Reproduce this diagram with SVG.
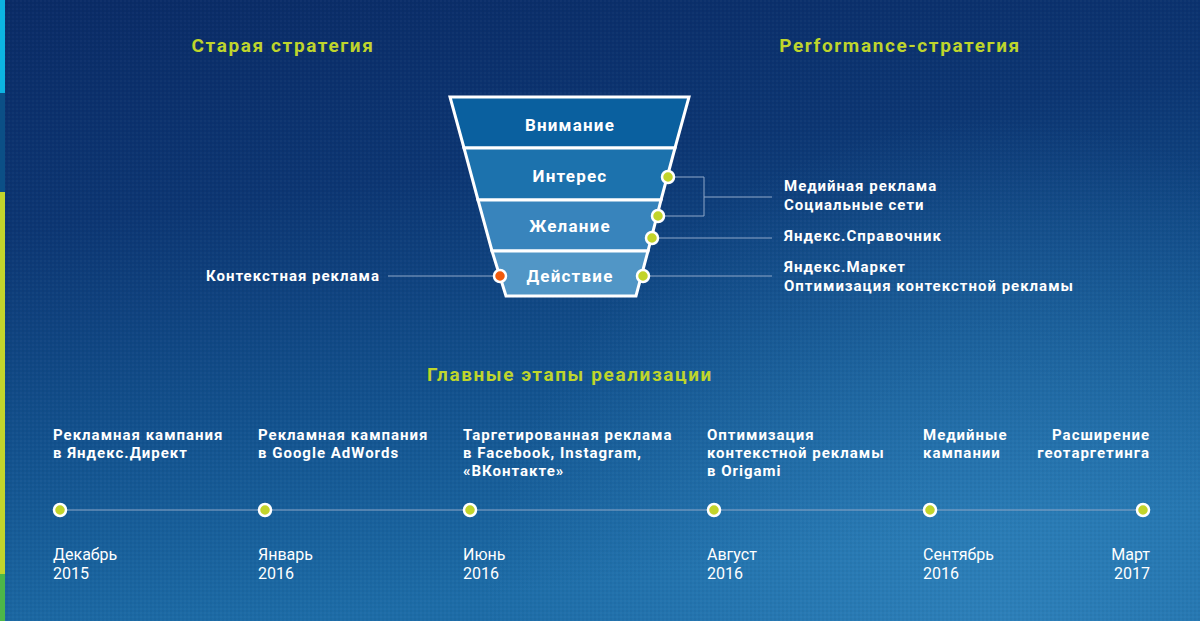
<svg xmlns="http://www.w3.org/2000/svg" width="1200" height="621" viewBox="0 0 1200 621">
<defs>
<linearGradient id="bg" x1="0" y1="0" x2="0.25" y2="1">
<stop offset="0" stop-color="#0a2b66"/>
<stop offset="0.35" stop-color="#0c3673"/>
<stop offset="0.7" stop-color="#13538f"/>
<stop offset="1" stop-color="#1d6ca7"/>
</linearGradient>
<radialGradient id="glow" cx="1000" cy="640" r="520" gradientUnits="userSpaceOnUse">
<stop offset="0" stop-color="#3a90c8" stop-opacity="0.55"/>
<stop offset="1" stop-color="#3a90c8" stop-opacity="0"/>
</radialGradient>
<pattern id="tex" width="4" height="4" patternUnits="userSpaceOnUse">
<rect x="0" y="0" width="2" height="2" fill="#ffffff" fill-opacity="0.025"/>
<rect x="2" y="2" width="2" height="2" fill="#000000" fill-opacity="0.03"/>
</pattern>
<style>
.title{font-family:Roboto,"Liberation Sans",sans-serif;font-weight:700;font-size:19px;letter-spacing:1.6px;fill:#bfd52c;text-anchor:middle}
.fl{font-family:Roboto,"Liberation Sans",sans-serif;font-weight:700;font-size:17px;letter-spacing:1.2px;fill:#ffffff;text-anchor:middle}
.lb{font-family:Roboto,"Liberation Sans",sans-serif;font-weight:700;font-size:15px;letter-spacing:1px;fill:#ffffff}
.dt{font-family:Roboto,"Liberation Sans",sans-serif;font-weight:400;font-size:16px;fill:#ffffff}
.ln{stroke:#8ea7c8;stroke-width:1;fill:none}
.dot{fill:#c2d42a;stroke:#ffffff;stroke-width:2.5}
.dotr{fill:#f15a0c;stroke:#ffffff;stroke-width:2.5}
.band{stroke:#ffffff;stroke-width:3}
</style>
</defs>
<rect width="1200" height="621" fill="url(#bg)"/>
<rect width="1200" height="621" fill="url(#glow)"/>
<rect width="1200" height="621" fill="url(#tex)"/>
<g id="sidebar">
<rect x="0" y="0" width="5" height="93" fill="#0cb4e2"/>
<rect x="0" y="93" width="5" height="99" fill="#0b4f86"/>
<rect x="0" y="192" width="5" height="382" fill="#c3d52c"/>
<rect x="0" y="574" width="5" height="47" fill="#4db748"/>
</g>
<g id="titles">
<text class="title" x="283" y="52">Старая стратегия</text>
<text class="title" x="900" y="52">Performance-стратегия</text>
<text class="title" x="570" y="381">Главные этапы реализации</text>
</g>
<g id="connectors">
<polyline class="ln" points="668,177 704,177 704,216 658,216"/>
<line class="ln" x1="704" y1="197" x2="772" y2="197"/>
<line class="ln" x1="652" y1="238" x2="772" y2="238"/>
<line class="ln" x1="643" y1="276" x2="772" y2="276"/>
<line class="ln" x1="388" y1="276" x2="500" y2="276"/>
<line class="ln" x1="60" y1="510" x2="1143" y2="510"/>
</g>
<g id="funnel">
<g id="band-attention">
<polygon class="band" points="450,97 689,97 675,148 464,148" fill="#0a609f"/>
<text class="fl" x="570" y="131">Внимание</text>
</g>
<g id="band-interest">
<polygon class="band" points="464,148 675,148 661,200 478,200" fill="#1c72ad"/>
<text class="fl" x="570" y="182">Интерес</text>
</g>
<g id="band-desire">
<polygon class="band" points="478,200 661,200 648,251 492,251" fill="#3884bc"/>
<text class="fl" x="570" y="232">Желание</text>
</g>
<g id="band-action">
<polygon class="band" points="492,251 648,251 636,296 506,296" fill="#5196c6"/>
<text class="fl" x="570" y="282">Действие</text>
</g>
</g>
<g id="funnel-dots">
<circle class="dot" cx="668" cy="177" r="6"/>
<circle class="dot" cx="658" cy="216" r="6"/>
<circle class="dot" cx="652" cy="238" r="6"/>
<circle class="dot" cx="643" cy="276" r="6"/>
<circle class="dotr" cx="500" cy="276" r="6"/>
</g>
<g id="channel-labels">
<text class="lb" x="784" y="191">Медийная реклама</text>
<text class="lb" x="784" y="210">Социальные сети</text>
<text class="lb" x="784" y="241">Яндекс.Справочник</text>
<text class="lb" x="784" y="272">Яндекс.Маркет</text>
<text class="lb" x="784" y="291">Оптимизация контекстной рекламы</text>
<text class="lb" x="380" y="281" text-anchor="end">Контекстная реклама</text>
</g>
<g id="stage-1">
<circle class="dot" cx="60" cy="510" r="6"/>
<text class="lb" x="53" y="440">Рекламная кампания</text>
<text class="lb" x="53" y="458">в Яндекс.Директ</text>
<text class="dt" x="53" y="560">Декабрь</text>
<text class="dt" x="53" y="579">2015</text>
</g>
<g id="stage-2">
<circle class="dot" cx="265" cy="510" r="6"/>
<text class="lb" x="258" y="440">Рекламная кампания</text>
<text class="lb" x="258" y="458">в Google AdWords</text>
<text class="dt" x="258" y="560">Январь</text>
<text class="dt" x="258" y="579">2016</text>
</g>
<g id="stage-3">
<circle class="dot" cx="470" cy="510" r="6"/>
<text class="lb" x="463" y="440">Таргетированная реклама</text>
<text class="lb" x="463" y="458">в Facebook, Instagram,</text>
<text class="lb" x="463" y="476">«ВКонтакте»</text>
<text class="dt" x="463" y="560">Июнь</text>
<text class="dt" x="463" y="579">2016</text>
</g>
<g id="stage-4">
<circle class="dot" cx="714" cy="510" r="6"/>
<text class="lb" x="707" y="440">Оптимизация</text>
<text class="lb" x="707" y="458">контекстной рекламы</text>
<text class="lb" x="707" y="476">в Origami</text>
<text class="dt" x="707" y="560">Август</text>
<text class="dt" x="707" y="579">2016</text>
</g>
<g id="stage-5">
<circle class="dot" cx="930" cy="510" r="6"/>
<text class="lb" x="923" y="440">Медийные</text>
<text class="lb" x="923" y="458">кампании</text>
<text class="dt" x="923" y="560">Сентябрь</text>
<text class="dt" x="923" y="579">2016</text>
</g>
<g id="stage-6">
<circle class="dot" cx="1143" cy="510" r="6"/>
<text class="lb" x="1150" y="440" text-anchor="end">Расширение</text>
<text class="lb" x="1150" y="458" text-anchor="end">геотаргетинга</text>
<text class="dt" x="1150" y="560" text-anchor="end">Март</text>
<text class="dt" x="1150" y="579" text-anchor="end">2017</text>
</g>
</svg>
